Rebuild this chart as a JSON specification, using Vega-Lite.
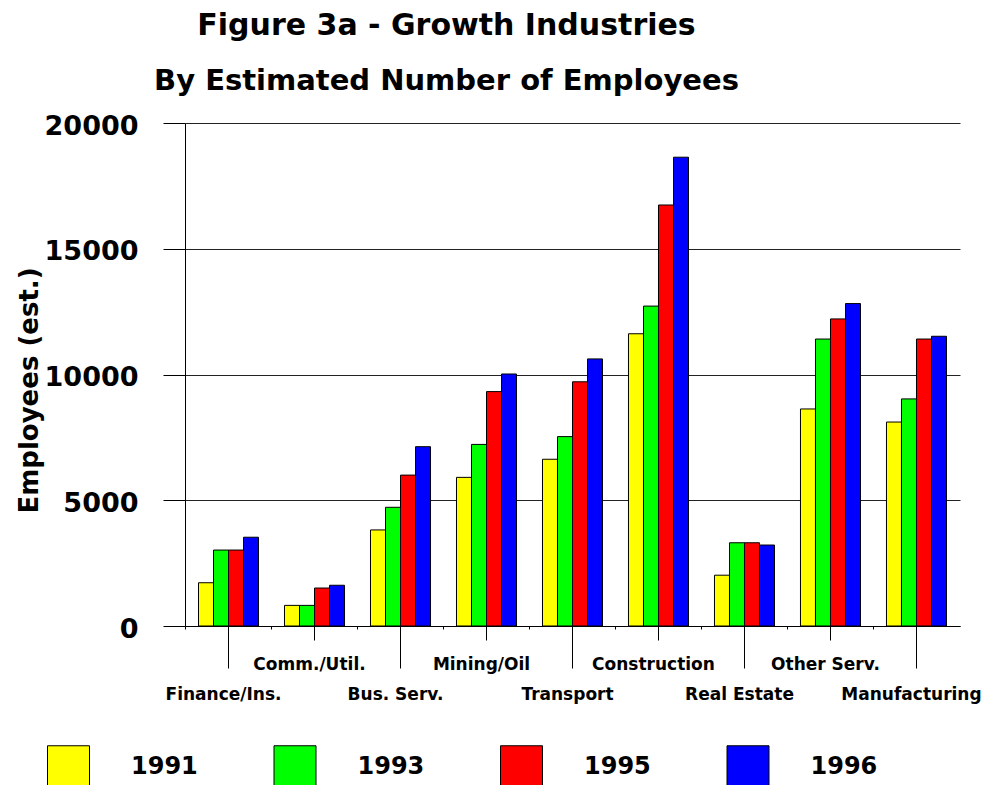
{
  "$schema": "https://vega.github.io/schema/vega-lite/v6.json",
  "width": 775,
  "height": 503,
  "autosize": {"type": "none"},
  "padding": {"left": 185, "top": 123, "right": 21, "bottom": 159},
  "background": "white",
  "title": {
    "text": "Figure 3a - Growth Industries",
    "subtitle": "By Estimated Number of Employees",
    "anchor": "middle",
    "frame": "group",
    "dx": -126,
    "offset": 16,
    "font": "DejaVu Sans",
    "fontSize": 30,
    "fontWeight": "bold",
    "color": "black",
    "subtitleFont": "DejaVu Sans",
    "subtitleFontSize": 29,
    "subtitleFontWeight": "bold",
    "subtitleColor": "black",
    "subtitlePadding": 26
  },
  "data": {
    "values": [
      {"industry": "Finance/Ins.", "year": "1991", "employees": 1720},
      {"industry": "Finance/Ins.", "year": "1993", "employees": 3020},
      {"industry": "Finance/Ins.", "year": "1995", "employees": 3020},
      {"industry": "Finance/Ins.", "year": "1996", "employees": 3530},
      {"industry": "Comm./Util.", "year": "1991", "employees": 820},
      {"industry": "Comm./Util.", "year": "1993", "employees": 820},
      {"industry": "Comm./Util.", "year": "1995", "employees": 1510},
      {"industry": "Comm./Util.", "year": "1996", "employees": 1620},
      {"industry": "Bus. Serv.", "year": "1991", "employees": 3820},
      {"industry": "Bus. Serv.", "year": "1993", "employees": 4720},
      {"industry": "Bus. Serv.", "year": "1995", "employees": 6000},
      {"industry": "Bus. Serv.", "year": "1996", "employees": 7130},
      {"industry": "Mining/Oil", "year": "1991", "employees": 5910},
      {"industry": "Mining/Oil", "year": "1993", "employees": 7220},
      {"industry": "Mining/Oil", "year": "1995", "employees": 9320},
      {"industry": "Mining/Oil", "year": "1996", "employees": 10020},
      {"industry": "Transport", "year": "1991", "employees": 6630},
      {"industry": "Transport", "year": "1993", "employees": 7530},
      {"industry": "Transport", "year": "1995", "employees": 9710},
      {"industry": "Transport", "year": "1996", "employees": 10620},
      {"industry": "Construction", "year": "1991", "employees": 11620},
      {"industry": "Construction", "year": "1993", "employees": 12720},
      {"industry": "Construction", "year": "1995", "employees": 16740},
      {"industry": "Construction", "year": "1996", "employees": 18640},
      {"industry": "Real Estate", "year": "1991", "employees": 2020},
      {"industry": "Real Estate", "year": "1993", "employees": 3310},
      {"industry": "Real Estate", "year": "1995", "employees": 3310},
      {"industry": "Real Estate", "year": "1996", "employees": 3220},
      {"industry": "Other Serv.", "year": "1991", "employees": 8630},
      {"industry": "Other Serv.", "year": "1993", "employees": 11410},
      {"industry": "Other Serv.", "year": "1995", "employees": 12210},
      {"industry": "Other Serv.", "year": "1996", "employees": 12820},
      {"industry": "Manufacturing", "year": "1991", "employees": 8110},
      {"industry": "Manufacturing", "year": "1993", "employees": 9030},
      {"industry": "Manufacturing", "year": "1995", "employees": 11410},
      {"industry": "Manufacturing", "year": "1996", "employees": 11520}
    ]
  },
  "layer": [
    {
      "mark": {"type": "bar", "stroke": "black", "strokeWidth": 1},
      "encoding": {
        "x": {
          "field": "industry",
          "type": "nominal",
          "sort": ["Finance/Ins.", "Comm./Util.", "Bus. Serv.", "Mining/Oil", "Transport", "Construction", "Real Estate", "Other Serv.", "Manufacturing"],
          "scale": {"paddingInner": 0.302, "paddingOuter": 0.157},
          "axis": {
            "orient": "bottom",
            "title": null,
            "labelAngle": 0,
            "labelOverlap": false,
            "labelLimit": 0,
            "labelFlush": false,
            "labelBaseline": "top",
            "labelOffset": -5,
            "tickSize": {"condition": {"test": "indexof(['Comm./Util.','Mining/Oil','Construction','Other Serv.'], datum.value) >= 0", "value": 14}, "value": 42},
            "labelPadding": {"condition": {"test": "indexof(['Comm./Util.','Mining/Oil','Construction','Other Serv.'], datum.value) >= 0", "value": 16}, "value": 18},
            "labelFont": "DejaVu Sans",
            "labelFontSize": 17,
            "labelFontWeight": "bold",
            "labelColor": "black",
            "tickColor": "black",
            "domainColor": "black",
            "grid": false
          }
        },
        "xOffset": {"field": "year", "type": "nominal", "sort": ["1991", "1993", "1995", "1996"], "scale": {"paddingInner": 0, "paddingOuter": 0}},
        "y": {
          "field": "employees",
          "type": "quantitative",
          "scale": {"domain": [0, 20000], "nice": false},
          "axis": {
            "title": "Employees (est.)",
            "titleFont": "DejaVu Sans",
            "titleFontSize": 26,
            "titleFontWeight": "bold",
            "titleColor": "black",
            "titlePadding": 2,
            "titleY": 267,
            "values": [0, 5000, 10000, 15000, 20000],
            "format": "d",
            "tickSize": 22,
            "tickColor": "black",
            "labelPadding": 25,
            "labelFont": "DejaVu Sans",
            "labelFontSize": 27,
            "labelFontWeight": "bold",
            "labelColor": "black",
            "labelOffset": 3,
            "grid": true,
            "gridColor": "#222222",
            "gridOpacity": 1,
            "domainColor": "black"
          }
        },
        "color": {
          "field": "year",
          "type": "nominal",
          "scale": {"domain": ["1991", "1993", "1995", "1996"], "range": ["#ffff00", "#00ff00", "#ff0000", "#0000ff"]},
          "legend": {
            "title": null,
            "orient": "none",
            "legendX": -138,
            "legendY": 622,
            "direction": "horizontal",
            "symbolType": "square",
            "symbolSize": 1764,
            "symbolStrokeColor": "black",
            "symbolStrokeWidth": 1,
            "symbolOpacity": 1,
            "labelFont": "DejaVu Sans",
            "labelFontSize": 24,
            "labelFontWeight": "bold",
            "labelColor": "black",
            "labelOffset": 41,
            "columnPadding": 73.5
          }
        }
      }
    },
    {
      "mark": {"type": "bar", "opacity": 0},
      "encoding": {
        "x": {
          "field": "industry",
          "type": "nominal",
          "sort": ["Finance/Ins.", "Comm./Util.", "Bus. Serv.", "Mining/Oil", "Transport", "Construction", "Real Estate", "Other Serv.", "Manufacturing"],
          "axis": {
            "orient": "bottom",
            "title": null,
            "labels": false,
            "domain": false,
            "grid": false,
            "bandPosition": -0.217,
            "tickSize": 3,
            "tickColor": "black"
          }
        }
      }
    }
  ],
  "resolve": {"axis": {"x": "independent"}},
  "config": {"view": {"stroke": null}}
}
